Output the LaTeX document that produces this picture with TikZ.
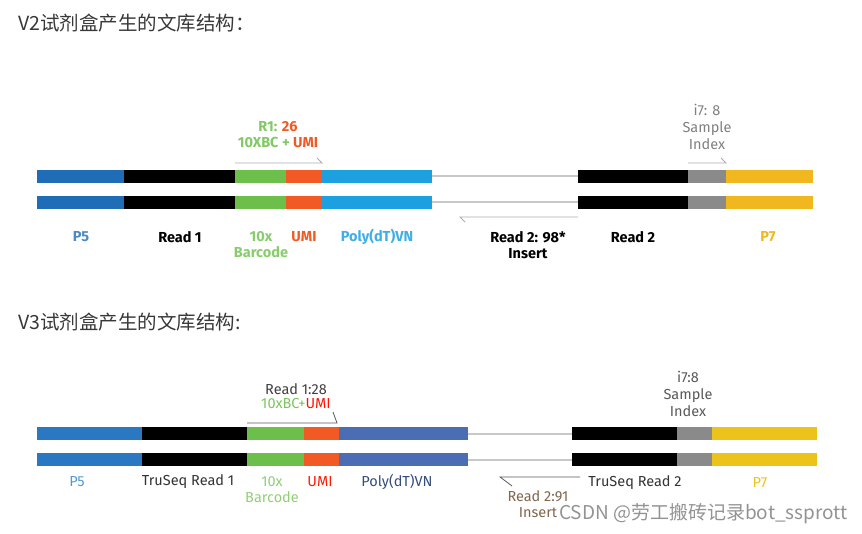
\documentclass[tikz,border=0pt]{standalone}
\usepackage{fontspec}
\setmainfont{Fira Sans}
\newfontfamily\cjk{Noto Sans CJK SC}
\usepackage{tikz}
\usetikzlibrary{positioning,calc}
\definecolor{pfivea}{HTML}{1F6DB6}
\definecolor{pfiveb}{HTML}{2A78C2}
\definecolor{bcgreen}{HTML}{6CBF4A}
\definecolor{umiorange}{HTML}{F15A24}
\definecolor{polya}{HTML}{1DA0E0}
\definecolor{polyb}{HTML}{4A6DB4}
\definecolor{idxgray}{HTML}{8A8A8A}
\definecolor{pseven}{HTML}{F0B81E}
\definecolor{psevenb}{HTML}{EBC31B}
\definecolor{linkgray}{HTML}{C8C8C8}
\newcommand{\seg}[4]{\fill[#4] (#1,#3) rectangle (#2,#3+13);}

\begin{document}
\begin{tikzpicture}[x=1pt,y=-1pt,
  ttl/.style={font=\cjk\fontsize{19.5}{22}\selectfont,text=black!78,anchor=west,inner sep=0pt},
  lab/.style={font=\fontsize{14.5}{16}\selectfont,inner sep=0pt,align=center},
  labb/.style={lab,font=\fontsize{14.5}{16}\selectfont\bfseries},
  rd/.style={draw=gray!65,line width=.8pt},
  rdk/.style={draw=black!65,line width=.8pt},
  link/.style={draw=linkgray,line width=2pt}]
\useasboundingbox (0,0) rectangle (862,534);

% V2
\node[ttl] (t2) at (18,23) {V2试剂盒产生的文库结构：};
\foreach \y in {170,196} {
  \seg{37}{124}{\y}{pfivea}
  \seg{124}{235}{\y}{black}
  \seg{235}{286}{\y}{bcgreen}
  \seg{286}{322}{\y}{umiorange}
  \seg{322}{432}{\y}{polya}
  \draw[link] (432,\y+6.5) -- (578,\y+6.5);
  \seg{578}{688}{\y}{black}
  \seg{688}{726}{\y}{idxgray}
  \seg{726}{813}{\y}{pseven}
}
\coordinate (r1a) at (235,163);
\coordinate (r1b) at (322,163);
\draw[rd] (r1a) -- (r1b) -- ++(-5,-5);
\coordinate (i7a) at (688,163);
\coordinate (i7b) at (726,163);
\draw[rd] (i7a) -- (i7b) -- ++(-5,-5);
\coordinate (r2a) at (578,217);
\coordinate (r2b) at (460,217);
\draw[rd] (r2a) -- (r2b) -- ++(5,5);
\node[labb] (r1) at (278,135) {\textcolor{bcgreen!85!white}{R1:} \textcolor{umiorange}{26}\\[0pt]\textcolor{bcgreen!85!white}{10XBC +} \textcolor{umiorange}{UMI}};
\node[lab,text=gray,font=\fontsize{14.5}{17}\selectfont] (i7) at (707,127) {i7: 8\\Sample\\Index};
\node[labb,text=pfivea!80!white] (p5) at (81,237) {P5};
\node[labb] (rd1) at (180,237) {Read 1};
\node[labb,text=bcgreen!80!white,anchor=north] (bc) at (261,231) {10x\\Barcode};
\node[labb,text=umiorange] (umi) at (304,237) {UMI};
\node[labb,text=polya!85!white] (poly) at (377,237) {Poly(dT)VN};
\node[labb,anchor=north] (ins) at (528,231) {Read 2: 98*\\Insert};
\node[labb] (rd2) at (633,237) {Read 2};
\node[labb,text=pseven] (p7) at (768,237) {P7};

% V3
\node[ttl] (t3) at (18,322) {V3试剂盒产生的文库结构:};
\foreach \y in {427,453} {
  \seg{37}{142}{\y}{pfiveb}
  \seg{142}{247}{\y}{black}
  \seg{247}{304}{\y}{bcgreen}
  \seg{304}{339}{\y}{umiorange}
  \seg{339}{468}{\y}{polyb}
  \draw[link] (468,\y+7) -- (572,\y+7);
  \seg{572}{677}{\y}{black}
  \seg{677}{712}{\y}{idxgray}
  \seg{712}{817}{\y}{psevenb}
}
\coordinate (b1a) at (247,423);
\coordinate (b1b) at (337,423);
\draw[rdk] (b1a) -- (b1b) -- (333,412);
\coordinate (b2a) at (580,477);
\coordinate (b2b) at (500,477);
\draw[rdk] (b2a) -- (b2b) -- (512,486);
\node[lab,text=black!75,anchor=north] (rr1) at (296,383) {Read 1:28\\[-2pt]\textcolor{bcgreen!90!white}{10xBC+}\textcolor{red!85!orange}{UMI}};
\node[lab,text=black!65,font=\fontsize{14.5}{17}\selectfont] (ii7) at (688,394) {i7:8\\Sample\\Index};
\node[lab,text=cyan!60!blue!70!white] (pp5) at (77,482) {P5};
\node[lab,text=black!80] (tr1) at (188,482) {TruSeq Read 1};
\node[lab,text=bcgreen!75!white,anchor=north] (bbc) at (272,476) {10x\\Barcode};
\node[lab,text=red!80!orange] (uumi) at (320,482) {UMI};
\node[lab,text=polyb!70!black] (ppoly) at (397,482) {Poly(dT)VN};
\node[lab,text=black!50!brown!80!white,anchor=north] (iins) at (538,490) {Read 2:91\\Insert};
\node[lab,text=black!80] (tr2) at (635,483) {TruSeq Read 2};
\node[lab,text=psevenb] (pp7) at (760,483) {P7};

% watermark
\node[font=\cjk\fontsize{19}{22}\selectfont,text=gray,fill opacity=.85,text opacity=.85,anchor=west,inner sep=0pt] (wm) at (559,514) {CSDN @劳工搬砖记录bot\_ssprott};
\end{tikzpicture}
\end{document}
